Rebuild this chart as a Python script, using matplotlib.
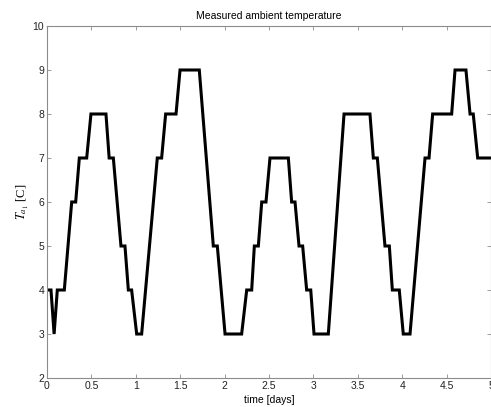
import matplotlib
matplotlib.use("Agg")
import matplotlib.pyplot as plt

# time (days) of each vertex and the measured temperature there
t_days = [0.0, 0.045, 0.08, 0.116, 0.195, 0.278, 0.323, 0.364, 0.447, 0.495,
          0.664, 0.70, 0.747, 0.833, 0.878, 0.916, 0.953, 1.01, 1.066,
          1.242, 1.291, 1.336, 1.453, 1.498, 1.715, 1.873, 1.918, 2.005, 2.192,
          2.249, 2.305, 2.335, 2.38, 2.418, 2.466, 2.511, 2.718, 2.755, 2.793,
          2.838, 2.879, 2.924, 2.97, 3.007, 3.168,
          3.345, 3.637, 3.675, 3.72, 3.806, 3.855, 3.889, 3.967, 4.012, 4.088,
          4.257, 4.302, 4.343, 4.557, 4.595, 4.718, 4.764, 4.80, 4.85, 5.0]
temp = [4, 4, 3, 4, 4, 6, 6, 7, 7, 8,
        8, 7, 7, 5, 5, 4, 4, 3, 3,
        7, 7, 8, 8, 9, 9, 5, 5, 3, 3,
        4, 4, 5, 5, 6, 6, 7, 7, 6, 6,
        5, 5, 4, 4, 3, 3,
        8, 8, 7, 7, 5, 5, 4, 4, 3, 3,
        7, 7, 8, 8, 9, 9, 8, 8, 7, 7]

x_ticks = [0, 0.5, 1, 1.5, 2, 2.5, 3, 3.5, 4, 4.5, 5]
x_tick_labels = ["0", "0.5", "1", "1.5", "2", "2.5", "3", "3.5", "4", "4.5", "5"]
y_ticks = [2, 3, 4, 5, 6, 7, 8, 9, 10]

plt.rcParams['font.family'] = ['Liberation Sans', 'DejaVu Sans']
plt.rcParams['mathtext.fontset'] = 'stix'

fig = plt.figure(figsize=(4.91, 4.07), dpi=100)
ax = fig.add_axes([47/491, 29/407, 444/491, 352/407])
ax.plot(t_days, temp, color='black', linewidth=2.2, solid_joinstyle='miter')
ax.set_xlim(0, 5)
ax.set_ylim(2, 10)
ax.set_xticks(x_ticks)
ax.set_xticklabels(x_tick_labels)
ax.set_yticks(y_ticks)
spine_col = '#8c8c8c'
for s in ax.spines.values():
    s.set_color(spine_col)
    s.set_linewidth(0.8)
ax.tick_params(direction='in', length=3, width=0.6, color=spine_col,
               labelsize=7.5, labelcolor='#222222', top=True, right=True, pad=2)
ax.set_title("Measured ambient temperature", fontsize=7.5, pad=5)
ax.set_xlabel("time [days]", fontsize=7.5, labelpad=3)
ax.set_ylabel(r"$T_{a_1}$ [C]", fontsize=9, family='Liberation Serif', labelpad=1)
fig.savefig("out.png", dpi=100)
